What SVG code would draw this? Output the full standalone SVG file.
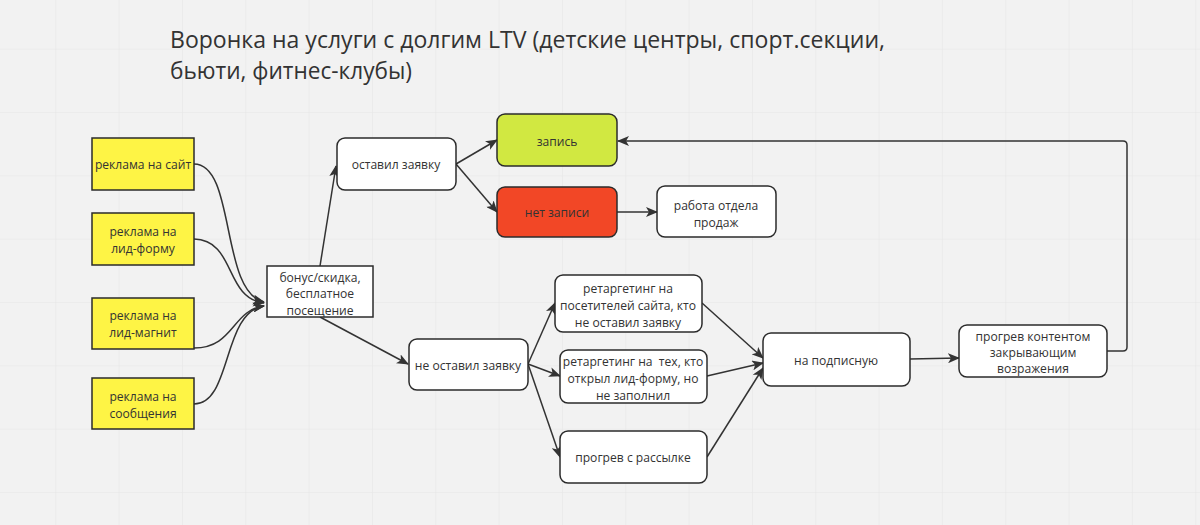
<svg xmlns="http://www.w3.org/2000/svg" width="1200" height="525" viewBox="0 0 1200 525">
<defs>
<pattern id="grid" x="55.3" y="48.7" width="63.33" height="63.33" patternUnits="userSpaceOnUse">
<path d="M0,0 H63.33 M0,0 V63.33" fill="none" stroke="#e6e6e6" stroke-width="1.2"/>
</pattern>
<marker id="arr" viewBox="0 0 12 10" refX="11" refY="5" markerWidth="12" markerHeight="10" markerUnits="userSpaceOnUse" orient="auto">
<path d="M0,0 L12,5 L0,10 L3,5 z" fill="#333"/>
</marker>
<style>
.t{font-family:"Open Sans","Noto Sans","Liberation Sans",sans-serif;font-size:12.1px;fill:#333;text-anchor:middle;white-space:pre}
.ttl{font-family:"Open Sans","Noto Sans","Liberation Sans",sans-serif;font-size:24px;fill:#333}
.y{fill:#fef445;stroke:#2b2b2b;stroke-width:1.5}
.w{fill:#fff;stroke:#2b2b2b;stroke-width:1.5}
.c{fill:none;stroke:#333;stroke-width:1.5;marker-end:url(#arr)}
</style>
</defs>
<rect width="1200" height="525" fill="#f2f2f2"/>
<rect width="1200" height="525" fill="url(#grid)"/>
<g id="title">
<text class="ttl" x="170" y="48" textLength="715" lengthAdjust="spacingAndGlyphs">Воронка на услуги с долгим LTV (детские центры, спорт.секции,</text>
<text class="ttl" x="170" y="79" textLength="242" lengthAdjust="spacingAndGlyphs">бьюти, фитнес-клубы)</text>
</g>
<g id="connectors">
<path class="c" d="M194,164 C236,164 220,292 264,302"/>
<path class="c" d="M194,239 C236,240 224,298 264,303"/>
<path class="c" d="M194,348 C234,348 232,310 264,306"/>
<path class="c" d="M194,404 C232,404 222,312 264,306"/>
<path class="c" d="M320,266 L336,166"/>
<path class="c" d="M320,317 L408,364"/>
<path class="c" d="M456,164 L497,140"/>
<path class="c" d="M456,164 L497,212"/>
<path class="c" d="M617,212 L657,212"/>
<path class="c" d="M528,364 L555,303"/>
<path class="c" d="M528,364 L560,376"/>
<path class="c" d="M528,364 L560,457"/>
<path class="c" d="M702,303 L763,358"/>
<path class="c" d="M707,376 L763,363"/>
<path class="c" d="M707,457 L763,368"/>
<path class="c" d="M910,359 L959,358"/>
<path class="c" d="M1107,351 H1123 Q1127,351 1127,347 V145 Q1127,141 1123,141 H618"/>
</g>
<g id="n-site"><rect class="y" x="92" y="138" width="102" height="52"/><text class="t" x="143" y="169">реклама на сайт</text></g>
<g id="n-leadform"><rect class="y" x="92" y="213" width="102" height="52"/><text class="t" x="143" y="236">реклама на</text><text class="t" x="143" y="253">лид-форму</text></g>
<g id="n-leadmagnet"><rect class="y" x="92" y="298" width="102" height="51"/><text class="t" x="143" y="320">реклама на</text><text class="t" x="143" y="337">лид-магнит</text></g>
<g id="n-messages"><rect class="y" x="92" y="378" width="102" height="51"/><text class="t" x="143" y="401">реклама на</text><text class="t" x="143" y="418">сообщения</text></g>
<g id="n-bonus"><rect class="w" x="267" y="266" width="106" height="51"/><text class="t" x="320" y="282">бонус/скидка,</text><text class="t" x="320" y="298">бесплатное</text><text class="t" x="320" y="315">посещение</text></g>
<g id="n-left"><rect class="w" x="337" y="138" width="119" height="52" rx="8"/><text class="t" x="396" y="169">оставил заявку</text></g>
<g id="n-booked"><rect x="497" y="114" width="120" height="52" rx="8" fill="#d1e841" stroke="#2b2b2b" stroke-width="1.5"/><text class="t" x="557" y="146">запись</text></g>
<g id="n-notbooked"><rect x="497" y="187" width="120" height="50" rx="8" fill="#f24726" stroke="#2b2b2b" stroke-width="1.5"/><text class="t" x="557" y="217">нет записи</text></g>
<g id="n-sales"><rect class="w" x="657" y="186" width="119" height="51" rx="8"/><text class="t" x="716" y="210">работа отдела</text><text class="t" x="716" y="227">продаж</text></g>
<g id="n-notleft"><rect class="w" x="409" y="339" width="119" height="51" rx="8"/><text class="t" x="468" y="370">не оставил заявку</text></g>
<g id="n-rt1"><rect class="w" x="555" y="275" width="147" height="57" rx="8"/><text class="t" x="628" y="293">ретаргетинг на</text><text class="t" x="628" y="310">посетителей сайта, кто</text><text class="t" x="628" y="327">не оставил заявку</text></g>
<g id="n-rt2"><rect class="w" x="560" y="350" width="147" height="53" rx="8"/><text class="t" x="633" y="366">ретаргетинг на  тех, кто</text><text class="t" x="633" y="383">открыл лид-форму, но</text><text class="t" x="633" y="400">не заполнил</text></g>
<g id="n-mail"><rect class="w" x="560" y="431" width="147" height="52" rx="8"/><text class="t" x="633" y="462">прогрев с рассылке</text></g>
<g id="n-sub"><rect class="w" x="763" y="333" width="147" height="53" rx="8"/><text class="t" x="836" y="365">на подписную</text></g>
<g id="n-content"><rect class="w" x="959" y="325" width="148" height="52" rx="8"/><text class="t" x="1033" y="341">прогрев контентом</text><text class="t" x="1033" y="357">закрывающим</text><text class="t" x="1033" y="373">возражения</text></g>
</svg>
